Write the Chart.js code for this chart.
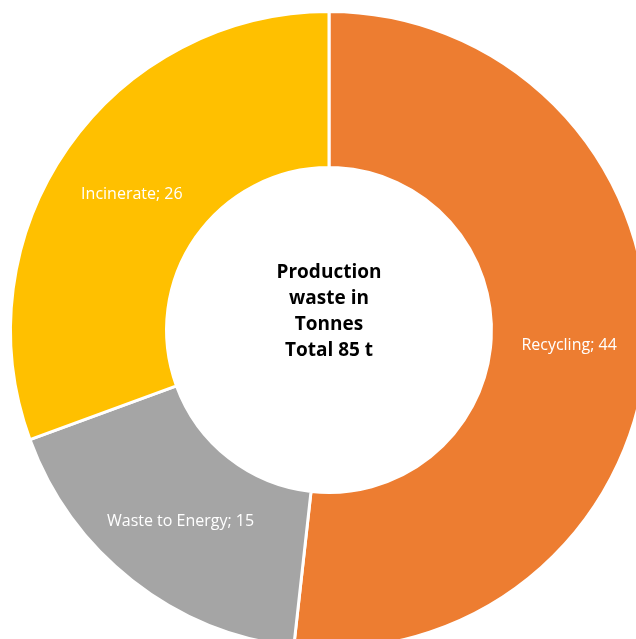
<!DOCTYPE html>
<html>
<head>
<meta charset="utf-8">
<script src="https://cdn.jsdelivr.net/npm/chart.js@4/dist/chart.umd.min.js"></script>
<style>
  html, body { margin: 0; padding: 0; background: #fff; overflow: hidden; }
  body { width: 636px; height: 639px; position: relative; }
  #wrap { position: absolute; left: -1px; top: 0px; width: 660px; height: 660px; }
</style>
</head>
<body>
<div id="wrap"><canvas id="donut" width="660" height="660"></canvas></div>
<script>
// données
const categories = ['Recycling', 'Waste to Energy', 'Incinerate'];
const values = [44, 15, 26];
const colors = ['#ED7D31', '#A5A5A5', '#FFC000'];
const centerLines = ['Production', 'waste in', 'Tonnes', 'Total 85 t'];

// étiquettes "Nom; valeur" au milieu de chaque part
const sliceLabels = {
    id: 'sliceLabels',
    afterDatasetsDraw(chart) {
        const ctx = chart.ctx;
        const meta = chart.getDatasetMeta(0);
        ctx.save();
        ctx.font = '16px "Open Sans", sans-serif';
        ctx.fillStyle = '#ffffff';
        ctx.textAlign = 'center';
        ctx.textBaseline = 'middle';
        meta.data.forEach((arc, i) => {
            const p = arc.tooltipPosition();
            ctx.fillText(`${categories[i]}; ${values[i]}`, p.x, p.y + 2);
        });
        ctx.restore();
    }
};

// texte au centre du donut (un peu au-dessus du centre, comme dans Excel)
const centerText = {
    id: 'centerText',
    afterDraw(chart) {
        const ctx = chart.ctx;
        const arc = chart.getDatasetMeta(0).data[0];
        ctx.save();
        ctx.font = 'bold 19px "Open Sans", sans-serif';
        ctx.fillStyle = '#000000';
        ctx.textAlign = 'center';
        ctx.textBaseline = 'middle';
        const lh = 26;
        const start = arc.y - 18 - lh * (centerLines.length - 1) / 2;
        centerLines.forEach((t, i) => ctx.fillText(t, arc.x, start + i * lh));
        ctx.restore();
    }
};

new Chart(document.getElementById('donut'), {
    type: 'doughnut',
    data: {
        labels: categories,
        datasets: [{
            data: values,
            backgroundColor: colors,
            borderColor: '#ffffff',
            borderWidth: 3
        }]
    },
    options: {
        responsive: false,
        animation: false,
        cutout: '51%',
        layout: { padding: 10 },
        plugins: {
            legend: { display: false },
            tooltip: { enabled: false }
        }
    },
    plugins: [sliceLabels, centerText]
});
</script>
</body>
</html>
